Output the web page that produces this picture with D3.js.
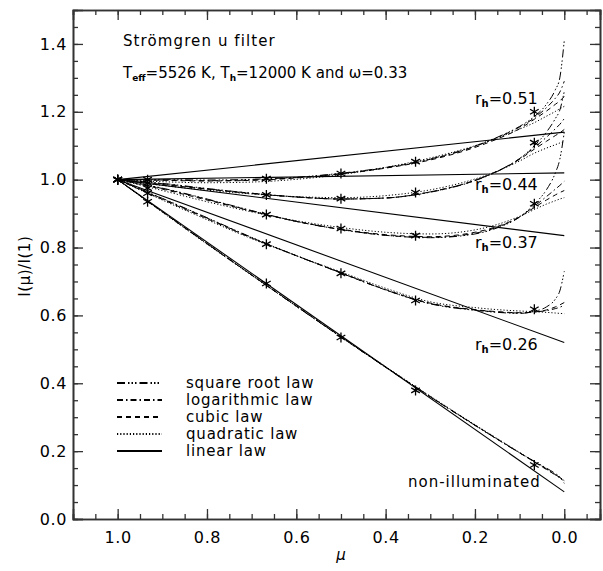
<!DOCTYPE html>
<html>
<head>
<meta charset="utf-8">
<script src="https://cdn.jsdelivr.net/npm/d3@7"></script>
<style>
    body { margin: 0; background: #fff; }
    svg text { font-family: "DejaVu Sans", sans-serif; fill: #000; }
</style>
</head>
<body>
<svg width="603" height="571"></svg>
<script>
// mu grid used for the fitted laws
var muGrid = [1, 0.9, 0.8, 0.7, 0.6, 0.5, 0.4, 0.3, 0.2, 0.15, 0.1, 0.067, 0.04, 0.02, 0.01, 0];

// model points (asterisks)
var muStars = [1, 0.933, 0.667, 0.5, 0.333, 0.067];
var starsR51 = [1.0, 1.0, 1.003, 1.018, 1.053, 1.200];
var starsR44 = [1.0, 0.99, 0.955, 0.944, 0.962, 1.109];
var starsR37 = [1.0, 0.975, 0.897, 0.856, 0.835, 0.929];
var starsR26 = [1.0, 0.96, 0.81, 0.724, 0.644, 0.618];
var starsNon = [1.0, 0.935, 0.694, 0.535, 0.379, 0.159];

// linear law: value at mu=0 (all start at 1 for mu=1)
var linearEnds = [1.14, 1.02, 0.835, 0.52, 0.08];

var quadR51 = [1, 0.994, 0.991, 0.993, 1.001, 1.015, 1.036, 1.064, 1.100, 1.123, 1.149, 1.168, 1.187, 1.201, 1.209, 1.216];
var cubR51  = [1, 0.998, 0.996, 0.998, 1.005, 1.017, 1.034, 1.058, 1.095, 1.120, 1.150, 1.178, 1.202, 1.222, 1.232, 1.245];
var logR51  = [1, 0.999, 0.997, 0.999, 1.006, 1.018, 1.035, 1.060, 1.098, 1.124, 1.155, 1.182, 1.212, 1.240, 1.258, 1.290];
var sqrR51  = [1, 1.000, 0.999, 1.001, 1.007, 1.019, 1.036, 1.061, 1.099, 1.125, 1.157, 1.186, 1.222, 1.265, 1.300, 1.410];

var quadR44 = [1, 0.983, 0.969, 0.958, 0.950, 0.947, 0.953, 0.970, 1.002, 1.025, 1.055, 1.078, 1.093, 1.103, 1.108, 1.112];
var cubR44  = [1, 0.986, 0.972, 0.959, 0.949, 0.943, 0.946, 0.964, 0.998, 1.025, 1.060, 1.090, 1.113, 1.130, 1.138, 1.148];
var logR44  = [1, 0.988, 0.973, 0.960, 0.949, 0.943, 0.946, 0.964, 0.998, 1.025, 1.062, 1.095, 1.125, 1.150, 1.163, 1.180];
var sqrR44  = [1, 0.989, 0.974, 0.960, 0.949, 0.943, 0.946, 0.963, 0.997, 1.024, 1.062, 1.100, 1.140, 1.180, 1.205, 1.260];

var quadR37 = [1, 0.968, 0.935, 0.905, 0.879, 0.859, 0.845, 0.840, 0.852, 0.868, 0.892, 0.912, 0.928, 0.938, 0.943, 0.947];
var cubR37  = [1, 0.972, 0.940, 0.907, 0.877, 0.854, 0.838, 0.832, 0.845, 0.862, 0.890, 0.918, 0.940, 0.955, 0.962, 0.968];
var logR37  = [1, 0.974, 0.942, 0.908, 0.877, 0.853, 0.836, 0.830, 0.842, 0.860, 0.890, 0.922, 0.950, 0.972, 0.983, 0.995];
var sqrR37  = [1, 0.975, 0.943, 0.909, 0.877, 0.853, 0.836, 0.829, 0.840, 0.858, 0.890, 0.928, 0.970, 1.020, 1.060, 1.140];

var quadR26 = [1, 0.940, 0.882, 0.826, 0.776, 0.728, 0.680, 0.640, 0.623, 0.617, 0.613, 0.611, 0.609, 0.607, 0.606, 0.605];
var cubR26  = [1, 0.942, 0.885, 0.828, 0.776, 0.726, 0.676, 0.636, 0.617, 0.611, 0.608, 0.610, 0.616, 0.625, 0.631, 0.638];
var logR26  = [1, 0.944, 0.887, 0.829, 0.776, 0.725, 0.675, 0.635, 0.616, 0.610, 0.607, 0.610, 0.614, 0.620, 0.624, 0.630];
var sqrR26  = [1, 0.945, 0.888, 0.830, 0.776, 0.725, 0.675, 0.634, 0.615, 0.609, 0.606, 0.612, 0.625, 0.648, 0.672, 0.730];

var quadNon = [1, 0.904, 0.810, 0.718, 0.627, 0.537, 0.449, 0.362, 0.278, 0.237, 0.196, 0.169, 0.147, 0.130, 0.122, 0.113];
var cubNon  = [1, 0.905, 0.811, 0.719, 0.628, 0.537, 0.448, 0.361, 0.277, 0.236, 0.195, 0.168, 0.146, 0.130, 0.122, 0.114];
var logNon  = [1, 0.906, 0.812, 0.719, 0.627, 0.536, 0.447, 0.360, 0.276, 0.235, 0.195, 0.169, 0.148, 0.131, 0.122, 0.110];
var sqrNon  = [1, 0.906, 0.812, 0.719, 0.627, 0.536, 0.447, 0.360, 0.276, 0.235, 0.195, 0.170, 0.150, 0.134, 0.124, 0.105];

var xTicks = [1.0, 0.8, 0.6, 0.4, 0.2, 0.0];
var yTicks = [0.0, 0.2, 0.4, 0.6, 0.8, 1.0, 1.2, 1.4];
var legendNames = ["square root law", "logarithmic law", "cubic law", "quadratic law", "linear law"];
var groupLabels = ["0.51", "0.44", "0.37", "0.26"];

var svg = d3.select("svg"),
        margin = {left: 73, right: 3, top: 10, bottom: 52},
        width = +svg.attr("width"),
        height = +svg.attr("height");

var x = d3.scaleLinear().domain([1.1, -0.08]).range([margin.left, width - margin.right]);
var y = d3.scaleLinear().domain([0, 1.5]).range([height - margin.bottom, margin.top]);

// dash styles
var dashes = {
    sqrt: "8,3,1.5,2,1.5,2,1.5,3",
    log: "6,3,1.5,3",
    cubic: "5,4",
    quad: "1.2,2",
    linear: null
};

var line = d3.line()
        .x(function (d) { return x(d[0]); })
        .y(function (d) { return y(d[1]); })
        .curve(d3.curveMonotoneX);

var plot = svg.append("g");

svg.append("clipPath").attr("id", "clip").append("rect")
        .attr("x", margin.left).attr("y", margin.top)
        .attr("width", x.range()[1] - margin.left).attr("height", y.range()[0] - margin.top);
plot.attr("clip-path", "url(#clip)");

function drawCurve(vals, dash) {
    plot.append("path")
            .datum(d3.zip(muGrid, vals))
            .attr("fill", "none")
            .attr("stroke", "#000")
            .attr("stroke-width", 1)
            .attr("stroke-dasharray", dash)
            .attr("d", line);
}

var groups = [
    [quadR51, cubR51, logR51, sqrR51],
    [quadR44, cubR44, logR44, sqrR44],
    [quadR37, cubR37, logR37, sqrR37],
    [quadR26, cubR26, logR26, sqrR26],
    [quadNon, cubNon, logNon, sqrNon]
];

groups.forEach(function (g) {
    drawCurve(g[0], dashes.quad);
    drawCurve(g[1], dashes.cubic);
    drawCurve(g[2], dashes.log);
    drawCurve(g[3], dashes.sqrt);
});

// linear laws
linearEnds.forEach(function (v) {
    plot.append("line")
            .attr("x1", x(1)).attr("y1", y(1))
            .attr("x2", x(0)).attr("y2", y(v))
            .attr("stroke", "#000")
            .attr("stroke-width", 1.1);
});

// asterisks
var star = d3.symbol().type(d3.symbolAsterisk).size(70);
[starsR51, starsR44, starsR37, starsR26, starsNon].forEach(function (s) {
    plot.selectAll(null)
            .data(d3.zip(muStars, s))
            .enter().append("path")
            .attr("d", star)
            .attr("transform", function (d) {
                return "translate(" + x(d[0]) + "," + y(d[1]) + ")";
            })
            .attr("fill", "none")
            .attr("stroke", "#000")
            .attr("stroke-width", 1.3);
});

// axes
var fmt = d3.format(".1f");
var xMinor = d3.range(-0.05, 1.1001, 0.05);
var yMinor = d3.range(0.05, 1.5, 0.05);

function styleAxis(sel) {
    sel.select(".domain").attr("stroke", "#333").attr("stroke-width", 1.6);
    sel.selectAll(".tick line").attr("stroke", "#333").attr("stroke-width", 1.3);
    sel.selectAll(".tick text").style("font-family", "DejaVu Sans").style("font-size", "16px")
            .style("letter-spacing", "0.6px").attr("fill", "#222");
}

svg.append("g").attr("transform", "translate(0," + y.range()[0] + ")")
        .call(d3.axisBottom(x).tickValues(xMinor).tickSize(-5).tickFormat("")).call(styleAxis);
svg.append("g").attr("transform", "translate(0," + y.range()[0] + ")")
        .call(d3.axisBottom(x).tickValues(xTicks).tickSize(-10).tickPadding(13).tickFormat(fmt)).call(styleAxis);
svg.append("g").attr("transform", "translate(0," + margin.top + ")")
        .call(d3.axisTop(x).tickValues(xMinor).tickSize(-5).tickFormat("")).call(styleAxis);
svg.append("g").attr("transform", "translate(0," + margin.top + ")")
        .call(d3.axisTop(x).tickValues(xTicks).tickSize(-10).tickFormat("")).call(styleAxis);

svg.append("g").attr("transform", "translate(" + margin.left + ",0)")
        .call(d3.axisLeft(y).tickValues(yMinor).tickSize(-5).tickFormat("")).call(styleAxis);
svg.append("g").attr("transform", "translate(" + margin.left + ",0)")
        .call(d3.axisLeft(y).tickValues(yTicks).tickSize(-10).tickPadding(6).tickFormat(fmt)).call(styleAxis);
svg.append("g").attr("transform", "translate(" + x.range()[1] + ",0)")
        .call(d3.axisRight(y).tickValues(yMinor).tickSize(-5).tickFormat("")).call(styleAxis);
svg.append("g").attr("transform", "translate(" + x.range()[1] + ",0)")
        .call(d3.axisRight(y).tickValues(yTicks).tickSize(-10).tickFormat("")).call(styleAxis);

// axis titles
svg.append("text")
        .attr("x", x(0.5)).attr("y", 560)
        .attr("text-anchor", "middle")
        .style("font-size", "15px").style("font-style", "italic")
        .text("μ");

svg.append("text")
        .attr("transform", "translate(30," + y(0.745) + ") rotate(-90)")
        .attr("text-anchor", "middle")
        .style("font-size", "15px")
        .style("letter-spacing", "0.5px")
        .text("I(μ)/I(1)");

// annotations
svg.append("text")
        .attr("x", 123).attr("y", 46)
        .style("font-size", "15px")
        .style("letter-spacing", "1.1px")
        .text("Strömgren u filter");

var t2 = svg.append("text").attr("x", 123).attr("y", 78).style("font-size", "15px");
t2.append("tspan").text("T");
t2.append("tspan").attr("dy", 3).style("font-size", "9px").style("font-weight", "bold").text("eff");
t2.append("tspan").attr("dy", -3).text("=5526 K, T");
t2.append("tspan").attr("dy", 3).style("font-size", "9px").style("font-weight", "bold").text("h");
t2.append("tspan").attr("dy", -3).text("=12000 K and ω=0.33");

var labelPos = [[475, 104], [475, 190], [475, 248], [475, 350]];
groupLabels.forEach(function (lab, i) {
    var t = svg.append("text").attr("x", labelPos[i][0]).attr("y", labelPos[i][1]).style("font-size", "16px");
    t.append("tspan").text("r");
    t.append("tspan").attr("dy", 3).style("font-size", "10px").style("font-weight", "bold").text("h");
    t.append("tspan").attr("dy", -3).text("=" + lab);
});

svg.append("text")
        .attr("x", 408).attr("y", 487)
        .style("font-size", "15px")
        .style("letter-spacing", "1px")
        .text("non-illuminated");

// legend
var legendDash = [dashes.sqrt, dashes.log, dashes.cubic, dashes.quad, dashes.linear];
var legend = svg.append("g");
legendNames.forEach(function (name, i) {
    var ly = 383 + i * 17;
    legend.append("line")
            .attr("x1", 117).attr("x2", 162)
            .attr("y1", ly).attr("y2", ly)
            .attr("stroke", "#000")
            .attr("stroke-width", 1.8)
            .attr("stroke-dasharray", legendDash[i]);
    legend.append("text")
            .attr("x", 186).attr("y", ly + 5)
            .style("font-size", "15px")
            .style("letter-spacing", "0.8px")
            .text(name);
});
</script>
</body>
</html>
